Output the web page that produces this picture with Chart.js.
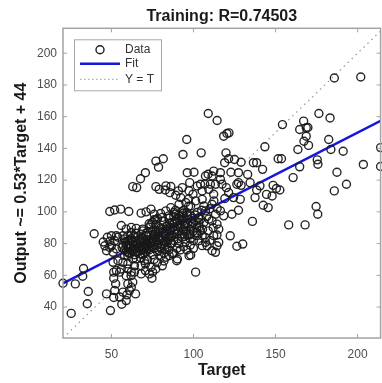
<!DOCTYPE html>
<html lang="en">
<head>
<meta charset="utf-8">
<title>Training regression</title>
<script src="https://cdn.jsdelivr.net/npm/chart.js@4/dist/chart.umd.min.js"></script>
<style>
  html, body { margin: 0; padding: 0; background: #fff; overflow: hidden; }
  #wrap { width: 386px; height: 383px; }
</style>
</head>
<body>
<div id="wrap"><canvas id="chart" width="386" height="383"></canvas></div>
<script>
// targets and network outputs, same order in both arrays
const targets = [
  20.5, 25.5, 28, 33, 32.5, 35.9, 35.3, 39.5, 45, 46,
  47, 47.5, 49, 50, 51, 52, 50, 53, 47, 49.4,
  51.4, 52, 52.6, 55, 56.3, 57, 59, 59.4, 60, 61,
  62.1, 63, 64.7, 51.4, 51.4, 53, 55, 56, 59, 60,
  62, 62.1, 64, 68.1, 70.7, 73.1, 74.7, 75.1, 74.1, 68.1,
  70.7, 51, 54, 57, 60, 60, 63, 65.1, 70.1, 49,
  53, 58, 49, 52, 55.6, 60.6, 56, 63, 65.4, 67.7,
  70.7, 77.1, 81.6, 78.7, 77.1, 79.1, 83.2, 86.2, 82.8, 85.6,
  89.2, 90.8, 92.2, 93.2, 97.3, 99.7, 97.7, 96.2, 100.3, 102.3,
  93.6, 95.9, 104.7, 107.3, 95.3, 98.3, 91.2, 101.3, 105.3, 68.1,
  71.1, 74.1, 76.1, 78.1, 75.1, 83.2, 86.2, 88.2, 93.2, 96.2,
  99.2, 103.3, 87.2, 90.2, 85.2, 59, 62.1, 65.1, 69.1, 73.1,
  77.1, 81.2, 83.2, 71.1, 67.1, 54, 57, 60, 62.1, 68.1,
  102.3, 107.3, 106.3, 111.3, 109, 114.4, 118.4, 120.4, 121.6, 119.8,
  121.4, 119, 125, 129, 136.5, 138.5, 143.5, 154.2, 151.6, 153.6,
  142.1, 133, 127.4, 122.8, 112.3, 108.9, 111.3, 116.4, 116.4, 106.9,
  110.3, 113.4, 117.4, 104.3, 127.4, 129, 134.5, 140.5, 148.5, 150.5,
  152.6, 144.5, 138.5, 147.9, 137.5, 128.5, 124.4, 119.1, 121.4, 142.5,
  145.5, 127.4, 123.4, 116.4, 118.4, 111.3, 114.3, 115.4, 105.3, 109.3,
  112.3, 112.3, 114.3, 105.3, 107.3, 115.4, 114.3, 111.3, 113.4, 108.3,
  103.3, 107.3, 122.4, 126.4, 130, 135.9, 112.4, 114.4, 109.4, 104.3,
  106.3, 113.4, 101.3, 97.3, 98.3, 90.2, 85.2, 89.8, 83.2, 120,
  126.4, 158, 168, 174.7, 175.7, 160.7, 164.7, 175.4, 175.8, 163.6,
  167.3, 170.1, 164.7, 168.7, 169.7, 168.7, 167.1, 176.4, 183.2, 185.8,
  201.9, 182.4, 183.7, 191.2, 203.5, 187.4, 193.2, 185.8, 214, 214,
  105.3, 87.2, 58, 59, 60, 61, 61, 62, 62, 63,
  63, 64, 64, 65, 65, 66, 66, 67, 67, 68,
  69, 69, 70, 70, 71, 71, 72, 72, 60, 58,
  57, 68, 70, 73, 73, 74, 74, 75, 75, 76,
  76, 77, 77, 78, 78, 79, 79, 80, 80, 81,
  81, 82, 82, 83, 83, 84, 84, 85, 85, 86,
  86, 74, 76, 80, 87, 88, 88, 89, 89, 90,
  90, 91, 91, 92, 93, 93, 94, 94, 95, 95,
  96, 96, 97, 98, 98, 99, 100, 100, 100, 101,
  102, 102, 103, 104, 105, 108, 109, 110, 110, 112,
  64, 72, 76, 78, 80, 82, 85, 88, 90, 92,
  94, 96, 98, 100, 77, 81, 59, 60, 61.5, 62.5,
  63.5, 64.5, 65.5, 66.5, 67.5, 68.5, 69.5, 70.5, 71.5, 72.5,
  73.5, 74.5, 75.5, 76.5, 77.5, 78.5, 79.5, 80.5, 81.5, 82.5,
  83.5, 84.5, 85.5, 86.5, 87.5, 88.5, 89.5, 90.5, 91.5, 92.5,
  93.5, 94.5, 95.5, 96.5, 97.5, 98.5, 56.5, 58.5, 61, 63.5,
  66, 68.5, 71, 73.5, 76, 78.5, 81, 83.5, 86, 88.5,
  91, 93.5, 96, 98.5, 101, 103.5, 60.5, 64, 67.5, 71.5,
  75, 79, 82.5, 86.5, 90.5, 94.5, 98, 102, 105.5, 65,
  69, 73, 77, 81, 85, 89, 93, 97
];

const outputs = [
  55, 36, 54.6, 64.3, 59.4, 49.8, 42.1, 86.2, 81, 78.6,
  75.5, 84, 81.5, 78.6, 74.5, 81.8, 84.9, 84.9, 48.3, 37.8,
  46, 50.4, 54.6, 46.3, 41.8, 49.4, 44.1, 47.7, 54.6, 50.4,
  52.5, 55.7, 48.3, 58.2, 62, 63, 62, 64, 59.8, 64,
  59.8, 62, 62, 60.9, 63, 60.9, 58.2, 62, 65.1, 66.1,
  67.2, 68.2, 69.2, 68.2, 67.2, 72.4, 70.3, 70.3, 69.2, 77.6,
  76.6, 72.4, 100.2, 101.2, 101.7, 100.2, 91.4, 115.9, 115.3, 120.9,
  124.7, 132, 133.5, 128.2, 115.9, 114.2, 116.4, 116, 113.8, 112.1,
  110.5, 113.2, 109, 115.3, 113.2, 111.1, 118.4, 124.7, 125, 116.3,
  136.2, 145.6, 137.2, 122.6, 105.9, 103.7, 104.8, 106.9, 107.9, 99.2,
  100, 101.7, 98.5, 95.8, 93.3, 100.6, 102.7, 99.6, 97.5, 95.4,
  92.3, 93.3, 93.3, 91.2, 89.1, 89.1, 90.2, 89.6, 89.1, 90.2,
  88.1, 89.1, 84.9, 84.9, 82.9, 84, 84.9, 81.8, 87, 86,
  99.6, 100.6, 103.7, 104.8, 162, 157.6, 147.7, 149.4, 149.8, 137.2,
  133.5, 131, 133, 131.3, 131, 131, 141, 155, 133.5, 133.5,
  126.8, 123.6, 124.7, 125, 125.7, 123.7, 122.6, 120.5, 124.7, 117.4,
  117.4, 117.4, 117.4, 117.4, 118.4, 116.7, 118.4, 116.4, 116.7, 114.7,
  113.8, 111, 113.8, 110, 109, 107.9, 109, 108.4, 112.2, 104.2,
  102.7, 101, 98.5, 100.6, 97.5, 94.3, 92.3, 89.1, 113.2, 114.2,
  111.1, 85, 85.4, 85, 80.8, 80.8, 78.6, 75.5, 74.5, 78.6,
  81.8, 83.9, 84.9, 78.3, 79.7, 94, 106.9, 102.1, 95.4, 95.4,
  93.3, 98.5, 62, 72.4, 72.8, 70.3, 72.4, 69.2, 71.4, 115.3,
  117.4, 91.8, 91.8, 103.4, 98.5, 121.6, 128.4, 132.8, 130, 139.3,
  144.5, 141.9, 151.9, 153, 153.2, 147.7, 157.2, 162, 159.2, 184.4,
  185, 145.6, 139.3, 138.2, 129.9, 125, 117.4, 113.2, 140.5, 128.6,
  78.7, 73.5, 76, 79, 77, 80, 74, 78, 83, 76,
  81, 79, 73, 77, 84, 80, 75, 78, 82, 76,
  79, 73, 81, 77, 82.5, 75, 79, 87, 85, 83,
  79, 71, 74, 82, 76, 79, 85, 88, 73, 81,
  77, 84, 92, 79, 75, 87, 82, 90, 77, 84,
  80, 94, 74, 86, 81, 78, 91, 84, 96, 80,
  88, 92, 95, 99, 85, 97, 82, 89, 101, 86,
  94, 80, 98, 90, 84, 95, 88, 101, 92, 81,
  98, 86, 108, 89, 83, 96, 88, 93, 82, 98,
  90, 85, 96, 88, 101, 97, 88, 82, 102, 90,
  66, 70, 70, 68, 72, 69, 76, 74, 77, 76,
  78, 76, 79, 77, 64, 66, 75, 79.5, 82, 75.5,
  78.5, 81.5, 74.5, 77.5, 80.5, 83.5, 76, 79, 81, 77,
  80, 83, 78.5, 86, 81.5, 84.5, 78, 82.5, 86.5, 79,
  88, 82, 93, 84, 90, 86, 95, 88, 92, 86,
  99, 91, 88, 93, 86, 91, 77.5, 81, 78.5, 84.5,
  79.5, 81, 86.5, 80.5, 85, 88.5, 87.5, 91, 90, 93.5,
  96, 94, 99.5, 97.5, 94.5, 90.5, 74, 76.5, 73.5, 78,
  81.5, 75.5, 77, 80, 83, 84.5, 85.5, 87, 89, 86.5,
  88, 92.5, 95, 96.5, 97.5, 98.5, 100, 103.5
];

const xTicks = [50, 100, 150, 200];
const yTicks = [40, 60, 80, 100, 120, 140, 160, 180, 200];
const xRange = [20.5, 214];
const yRange = [20.5, 215.7];

// linear fit reported on the y axis label
const fitSlope = 0.53;
const fitIntercept = 44;

const chartTitle = 'Training: R=0.74503';
const legendItems = ['Data', 'Fit', 'Y = T'];

const FONT = "'Liberation Sans', Arial, Helvetica, sans-serif";
Chart.defaults.font.family = FONT;

const fitAt = x => fitSlope * x + fitIntercept;

// title centred over the axes rather than the whole canvas
const titlePlugin = {
  id: 'axesTitle',
  afterDraw(chart) {
    const { ctx, chartArea: a } = chart;
    ctx.save();
    ctx.fillStyle = '#1a1a1a';
    ctx.font = 'bold 16px ' + FONT;
    ctx.textAlign = 'center';
    ctx.textBaseline = 'middle';
    ctx.fillText(chartTitle, (a.left + a.right) / 2, 17);
    ctx.restore();
  }
};

// axes box with inward ticks on all four sides
const boxPlugin = {
  id: 'box',
  afterDatasetsDraw(chart) {
    const { ctx, chartArea: a, scales } = chart;
    const len = 4;
    ctx.save();
    ctx.strokeStyle = '#a3a3a3';
    ctx.lineWidth = 1.5;
    ctx.strokeRect(a.left, a.top, a.right - a.left, a.bottom - a.top);
    ctx.lineWidth = 1;
    ctx.beginPath();
    xTicks.forEach(v => {
      const px = scales.x.getPixelForValue(v);
      ctx.moveTo(px, a.bottom); ctx.lineTo(px, a.bottom - len);
      ctx.moveTo(px, a.top); ctx.lineTo(px, a.top + len);
    });
    yTicks.forEach(v => {
      const py = scales.y.getPixelForValue(v);
      ctx.moveTo(a.left, py); ctx.lineTo(a.left + len, py);
      ctx.moveTo(a.right, py); ctx.lineTo(a.right - len, py);
    });
    ctx.stroke();
    ctx.restore();
  }
};

// MATLAB-style legend in the upper left corner of the axes
const legendPlugin = {
  id: 'boxLegend',
  afterDraw(chart) {
    const { ctx, chartArea: a } = chart;
    const x0 = a.left + 11, y0 = a.top + 11, w = 87, h = 51;
    ctx.save();
    ctx.fillStyle = '#fff';
    ctx.fillRect(x0, y0, w, h);
    ctx.strokeStyle = '#a8a8a8';
    ctx.lineWidth = 1;
    ctx.strokeRect(x0 + 0.5, y0 + 0.5, w, h);

    const rows = [y0 + 10.5, y0 + 24.5, y0 + 40];
    const lx1 = x0 + 6, lx2 = x0 + 46, tx = x0 + 51;

    // Data marker
    ctx.strokeStyle = '#1c1c1c';
    ctx.lineWidth = 1.4;
    ctx.beginPath();
    ctx.arc((lx1 + lx2) / 2, rows[0], 4, 0, Math.PI * 2);
    ctx.stroke();

    // Fit line
    ctx.strokeStyle = '#1515e0';
    ctx.lineWidth = 2.5;
    ctx.beginPath();
    ctx.moveTo(lx1, rows[1]); ctx.lineTo(lx2, rows[1]);
    ctx.stroke();

    // Y = T line
    ctx.strokeStyle = '#9d9d9d';
    ctx.lineWidth = 1;
    ctx.setLineDash([1.5, 2.5]);
    ctx.beginPath();
    ctx.moveTo(lx1, rows[2]); ctx.lineTo(lx2, rows[2]);
    ctx.stroke();
    ctx.setLineDash([]);

    ctx.fillStyle = '#333';
    ctx.font = '12px ' + FONT;
    ctx.textBaseline = 'middle';
    legendItems.forEach((t, i) => ctx.fillText(t, tx, rows[i]));
    ctx.restore();
  }
};

new Chart(document.getElementById('chart'), {
  type: 'scatter',
  data: {
    datasets: [
      {
        label: legendItems[0],
        data: targets.map((t, i) => ({ x: t, y: outputs[i] })),
        pointRadius: 4,
        pointHoverRadius: 4,
        pointBorderWidth: 1.4,
        pointBorderColor: 'rgba(25,25,25,0.95)',
        pointBackgroundColor: 'rgba(0,0,0,0)',
        clip: 8,
        order: 0
      },
      {
        label: legendItems[1],
        data: [{ x: xRange[0], y: fitAt(xRange[0]) }, { x: xRange[1], y: fitAt(xRange[1]) }],
        showLine: true,
        borderColor: '#1515e0',
        borderWidth: 2.5,
        pointRadius: 0,
        order: 1
      },
      {
        label: legendItems[2],
        data: [{ x: yRange[0], y: yRange[0] }, { x: yRange[1], y: yRange[1] }],
        showLine: true,
        borderColor: '#9d9d9d',
        borderWidth: 1.3,
        borderDash: [1.5, 4],
        pointRadius: 0,
        order: 2
      }
    ]
  },
  options: {
    responsive: false,
    animation: false,
    events: [],
    layout: { padding: { left: 0, right: 3, top: 28.3, bottom: 0 } },
    plugins: {
      legend: { display: false },
      tooltip: { enabled: false },
      title: { display: false }
    },
    scales: {
      x: {
        type: 'linear',
        position: 'bottom',
        min: xRange[0],
        max: xRange[1],
        grid: { display: false, drawTicks: false },
        border: { display: false },
        afterBuildTicks: s => { s.ticks = xTicks.map(v => ({ value: v })); },
        afterFit: s => { s.height = 45; },
        ticks: { color: '#4d4d4d', font: { size: 12 }, padding: 9, maxRotation: 0, autoSkip: false },
        title: {
          display: true,
          text: 'Target',
          color: '#1a1a1a',
          font: { size: 16, weight: 'bold' },
          padding: { top: 0, bottom: 3 }
        }
      },
      y: {
        type: 'linear',
        position: 'left',
        min: yRange[0],
        max: yRange[1],
        grid: { display: false, drawTicks: false },
        border: { display: false },
        afterBuildTicks: s => { s.ticks = yTicks.map(v => ({ value: v })); },
        afterFit: s => { s.width = 63; },
        ticks: { color: '#4d4d4d', font: { size: 12 }, padding: 6, autoSkip: false },
        title: {
          display: true,
          text: 'Output ~= 0.53*Target + 44',
          color: '#1a1a1a',
          font: { size: 16, weight: 'bold' },
          padding: { top: 12, bottom: 0 }
        }
      }
    }
  },
  plugins: [boxPlugin, legendPlugin, titlePlugin]
});
</script>
</body>
</html>
